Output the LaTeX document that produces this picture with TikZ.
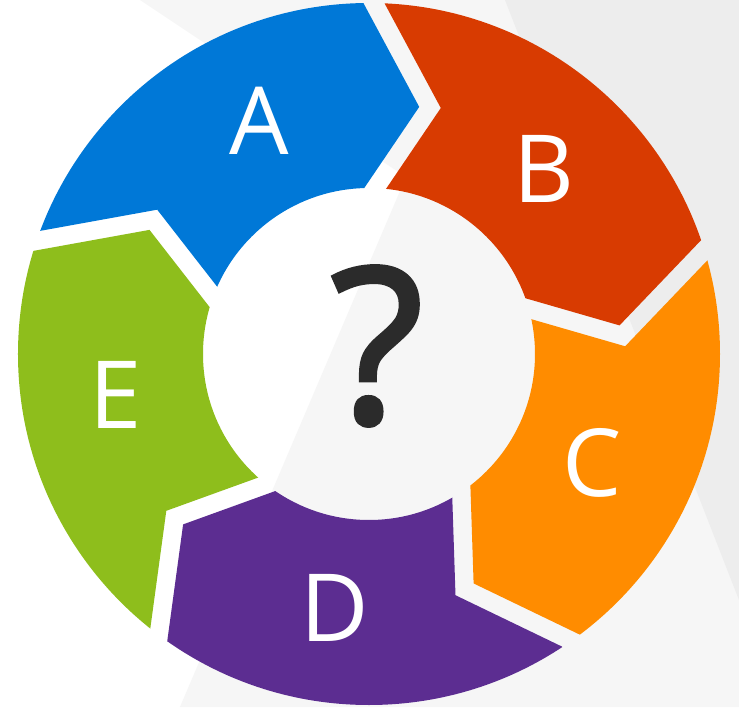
\documentclass[tikz,border=0pt]{standalone}
\usepackage{fontspec}
\setmainfont{Open Sans}
\newfontfamily\qfont[FakeBold=2]{Open Sans}
\usetikzlibrary{calc,intersections}
\definecolor{segA}{HTML}{0078D7}
\definecolor{segB}{HTML}{D83B01}
\definecolor{segC}{HTML}{FF8C00}
\definecolor{segD}{HTML}{5C2D91}
\definecolor{segE}{HTML}{8EBE1C}
\definecolor{bgone}{HTML}{F6F6F6}
\definecolor{bgtwo}{HTML}{EDEDED}
\definecolor{qmark}{HTML}{2B2B2B}
\tikzset{
  letter/.style={text=white, inner sep=0pt, font=\fontsize{94}{94}\selectfont},
  qlabel/.style={text=qmark, inner sep=0pt, font=\qfont\fontsize{216}{216}\selectfont}
}
\begin{document}
\begin{tikzpicture}[x=1pt,y=1pt]
\useasboundingbox (-369,-353) rectangle (370,354);
\fill[white] (-369,-353) rectangle (370,354);
\fill[bgone] (-229,354) -- (370,354) -- (370,-353) -- (-189,-353) -- (37,177) -- cycle;
\fill[bgtwo] (136,354) -- (370,354) -- (370,-246) -- cycle;

\def\gap{9.25pt}
\foreach \k in {0,...,4} {
  \pgfmathsetmacro{\ao}{89.2-72*\k}
  \pgfmathsetmacro{\at}{76.1-72*\k}
  \pgfmathsetmacro{\ai}{87.8-72*\k}
  \coordinate (O\k) at (\ao:351pt);
  \coordinate (T\k) at (\at:254pt);
  \coordinate (I\k) at (\ai:166pt);
  % clockwise side
  \coordinate (Ocw\k) at ($(O\k)!\gap!90:(T\k)$);
  \coordinate (Tacw\k) at ($(T\k)!\gap!-90:(O\k)$);
  \coordinate (Tbcw\k) at ($(T\k)!\gap!90:(I\k)$);
  \coordinate (Icw\k) at ($(I\k)!\gap!-90:(T\k)$);
  \path[name path=\k pa] (Ocw\k) -- ($(Ocw\k)!1.5!(Tacw\k)$);
  \path[name path=\k pb] (Icw\k) -- ($(Icw\k)!1.5!(Tbcw\k)$);
  \path[name intersections={of=\k pa and \k pb, by=Vcw\k}];
  \coordinate (Ecw\k) at ($(Vcw\k)!1.6!(Ocw\k)$);
  \coordinate (Xcw\k) at ($(Vcw\k)!1.8!(Icw\k)$);
  % counter-clockwise side
  \coordinate (Occw\k) at ($(O\k)!\gap!-90:(T\k)$);
  \coordinate (Taccw\k) at ($(T\k)!\gap!90:(O\k)$);
  \coordinate (Tbccw\k) at ($(T\k)!\gap!-90:(I\k)$);
  \coordinate (Iccw\k) at ($(I\k)!\gap!90:(T\k)$);
  \path[name path=\k qa] (Occw\k) -- ($(Occw\k)!1.5!(Taccw\k)$);
  \path[name path=\k qb] (Iccw\k) -- ($(Iccw\k)!1.5!(Tbccw\k)$);
  \path[name intersections={of=\k qa and \k qb, by=Vccw\k}];
  \coordinate (Eccw\k) at ($(Vccw\k)!1.6!(Occw\k)$);
  \coordinate (Xccw\k) at ($(Vccw\k)!1.8!(Iccw\k)$);
}

\begin{scope}[even odd rule]
\clip (0,0) circle (351pt) (0,0) circle (166pt);
\foreach \j/\c/\p in {0/segA/4, 1/segB/0, 2/segC/1, 3/segD/2, 4/segE/3} {
  \pgfmathsetmacro{\fa}{125.2-72*\j}
  \fill[\c] (0,0) -- (Xcw\p) -- (Vcw\p) -- (Ecw\p) -- (\fa:800pt)
     -- (Eccw\j) -- (Vccw\j) -- (Xccw\j) -- cycle;
}
\end{scope}

\node[letter] (labA) at (-110,233) {A};
\node[letter] (labB) at (175,185) {B};
\node[letter] (labC) at (223,-109) {C};
\node[letter] (labD) at (-34,-254) {D};
\node[letter] (labE) at (-253,-41) {E};
\node[qlabel] (q) at (8,8) {?};
\end{tikzpicture}
\end{document}
